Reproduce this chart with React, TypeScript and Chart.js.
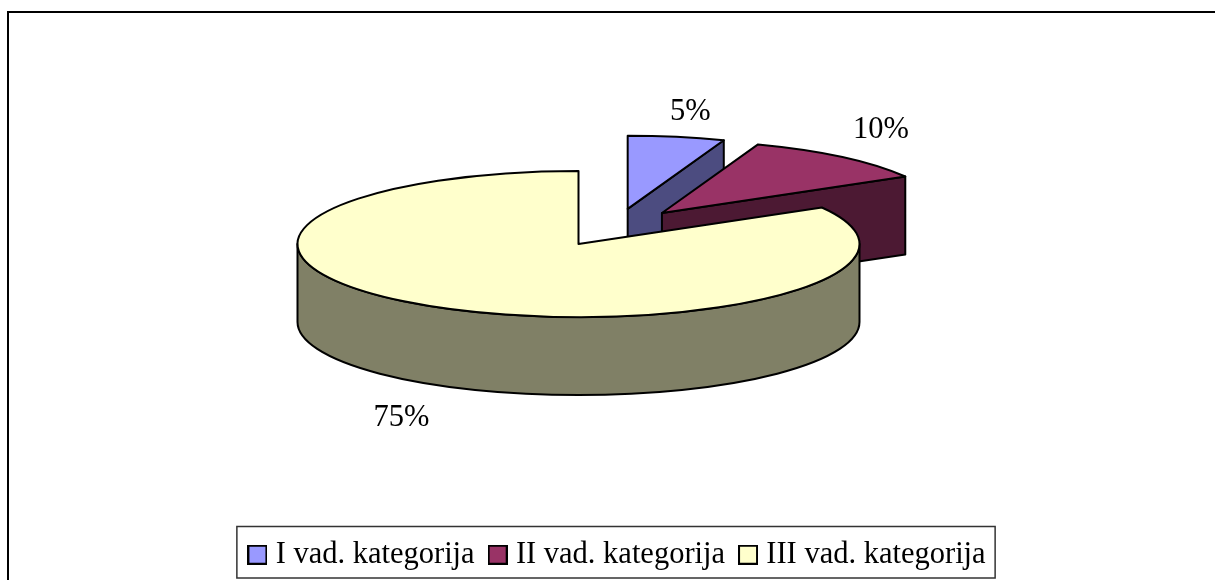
import React, { useEffect, useRef } from "react";
import { Chart, registerables } from "chart.js";

Chart.register(...registerables);

const categories = ["I vad. kategorija", "II vad. kategorija", "III vad. kategorija"];
const values = [5, 10, 75];
const valueLabels = ["5%", "10%", "75%"];
const topColors = ["#9999FF", "#993366", "#FFFFCC"];
const sideColors = ["#4C4C80", "#4C1933", "#808066"];

const FONT = "'Liberation Serif', serif";
const FONT_SIZE = 30.5;
const TILT = 0.26;
const DEPTH = 78;
const RADIUS = 281;
const EXPLODE = 73;
const CENTER_X = 615;
const CENTER_Y = 227.6;
const LABEL_RX = 350;
const LABEL_RY = 100;
const LABEL_NUDGE = [
  [2, 2],
  [-6, -6],
  [-2, 9],
];
const LEGEND_PAD = 20;

function makeSwatch(color: string) {
  const c = document.createElement("canvas");
  c.width = 20;
  c.height = 20;
  const g = c.getContext("2d")!;
  g.fillStyle = color;
  g.fillRect(1, 1, 18, 18);
  g.strokeStyle = "#000";
  g.lineWidth = 2;
  g.strokeRect(1, 1, 18, 18);
  return c;
}

function apex(el: any) {
  const half = (el.startAngle + el.endAngle) / 2;
  return {
    half,
    ax: CENTER_X + Math.cos(half) * EXPLODE,
    ay: CENTER_Y + Math.sin(half) * EXPLODE * TILT,
  };
}

const piePlugin = {
  id: "tiltedPie",
  beforeDraw(chart: any) {
    const { ctx, width, height } = chart;
    ctx.save();
    ctx.fillStyle = "#fff";
    ctx.fillRect(0, 0, width, height);
    ctx.strokeStyle = "#000";
    ctx.lineWidth = 2;
    ctx.beginPath();
    ctx.moveTo(8, height);
    ctx.lineTo(8, 12);
    ctx.lineTo(width, 12);
    ctx.stroke();
    ctx.restore();
  },
  beforeDatasetDraw(chart: any, args: any) {
    const { ctx } = chart;
    const arcs = chart.getDatasetMeta(args.index).data;
    arcs.forEach((el: any, i: number) => {
      const { ax, ay } = apex(el);
      const R = el.outerRadius;
      const px = (a: number) => ax + Math.cos(a) * R;
      const py = (a: number) => ay + Math.sin(a) * R * TILT;

      ctx.save();
      ctx.fillStyle = sideColors[i];
      ctx.strokeStyle = "#000";
      ctx.lineWidth = 2;
      ctx.lineJoin = "round";
      // radial wall facing the viewer
      if (Math.cos(el.endAngle) > 1e-6) {
        ctx.beginPath();
        ctx.moveTo(ax, ay);
        ctx.lineTo(px(el.endAngle), py(el.endAngle));
        ctx.lineTo(px(el.endAngle), py(el.endAngle) + DEPTH);
        ctx.lineTo(ax, ay + DEPTH);
        ctx.closePath();
        ctx.fill();
        ctx.stroke();
      }
      // outer rim, front half only
      const from = Math.max(el.startAngle, 0);
      const to = Math.min(el.endAngle, Math.PI);
      if (to > from) {
        ctx.beginPath();
        ctx.ellipse(ax, ay, R, R * TILT, 0, from, to);
        ctx.ellipse(ax, ay + DEPTH, R, R * TILT, 0, to, from, true);
        ctx.closePath();
        ctx.fill();
        ctx.stroke();
      }
      ctx.restore();

      // top face: the library's own arc, squashed and moved out
      ctx.save();
      ctx.setTransform(1, 0, 0, TILT, ax - el.x, ay - el.y * TILT);
      el.draw(ctx, chart.chartArea);
      ctx.restore();

      ctx.save();
      ctx.strokeStyle = "#000";
      ctx.lineWidth = 2;
      ctx.lineJoin = "round";
      ctx.beginPath();
      ctx.moveTo(ax, ay);
      ctx.ellipse(ax, ay, R, R * TILT, 0, el.startAngle, el.endAngle);
      ctx.closePath();
      ctx.stroke();
      ctx.restore();
    });
    return false;
  },
  afterDatasetsDraw(chart: any) {
    const { ctx } = chart;
    const arcs = chart.getDatasetMeta(0).data;
    ctx.save();
    ctx.fillStyle = "#000";
    ctx.font = `${FONT_SIZE}px ${FONT}`;
    ctx.textAlign = "center";
    ctx.textBaseline = "middle";
    arcs.forEach((el: any, i: number) => {
      const { half, ax, ay } = apex(el);
      const below = Math.sin(half) > 0 ? DEPTH : 0;
      ctx.fillText(
        valueLabels[i],
        ax + Math.cos(half) * LABEL_RX + LABEL_NUDGE[i][0],
        ay + Math.sin(half) * LABEL_RY + below + LABEL_NUDGE[i][1],
      );
    });
    ctx.restore();
  },
  afterDraw(chart: any) {
    const { ctx, legend } = chart;
    const boxes = legend.legendHitBoxes;
    const first = boxes[0];
    const last = boxes[boxes.length - 1];
    const left = first.left - 17.5;
    const right = last.left + last.width + 9.5;
    ctx.save();
    ctx.strokeStyle = "#333";
    ctx.lineWidth = 1.5;
    ctx.strokeRect(left, first.top - 13, right - left, 51.5);
    ctx.restore();
  },
};

export default function App() {
  const ref = useRef<HTMLCanvasElement | null>(null);
  useEffect(() => {
    const chart = new Chart(ref.current!, {
      type: "pie",
      data: {
        labels: categories,
        datasets: [
          {
            data: values,
            backgroundColor: topColors,
            borderWidth: 0,
          },
        ],
      },
      plugins: [piePlugin],
      options: {
        responsive: false,
        animation: false,
        radius: RADIUS,
        layout: { padding: { left: 25, right: 0, top: 0, bottom: 0 } },
        plugins: {
          tooltip: { enabled: false },
          legend: {
            position: "bottom",
            labels: {
              color: "#000",
              font: { family: FONT, size: FONT_SIZE },
              usePointStyle: true,
              pointStyleWidth: 6,
              boxWidth: 6,
              boxHeight: FONT_SIZE,
              padding: LEGEND_PAD,
              generateLabels() {
                return categories.map((text, i) => ({
                  text,
                  index: i,
                  fontColor: "#000",
                  fillStyle: topColors[i],
                  strokeStyle: "#000",
                  lineWidth: 0,
                  hidden: false,
                  pointStyle: makeSwatch(topColors[i]),
                }));
              },
            },
          },
        },
      },
    } as any);
    return () => chart.destroy();
  }, []);
  return (
    <div style={{ position: "absolute", left: 0, top: 0, width: 1215, height: 580, background: "#fff" }}>
      <canvas ref={ref} width={1215} height={580} style={{ display: "block" }} />
    </div>
  );
}
